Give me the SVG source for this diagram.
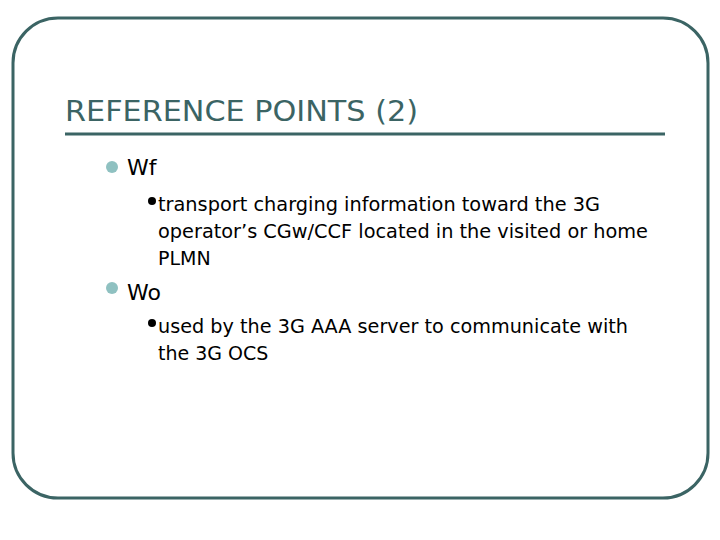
<svg xmlns="http://www.w3.org/2000/svg" width="720" height="540" viewBox="0 0 720 540">
<style>
.t{font-family:"DejaVu Sans","Liberation Sans",sans-serif}
.l1{font-size:22px;fill:#000}
.l2{font-size:19px;fill:#000}
</style>
<rect width="720" height="540" fill="#fff"/>
<g id="frame"><rect x="13" y="18" width="695" height="480" rx="45" fill="none" stroke="#3b6464" stroke-width="3"/></g>
<g id="title">
<text class="t" x="65" y="121" font-size="28" fill="#3b6464" textLength="353" lengthAdjust="spacingAndGlyphs">REFERENCE POINTS (2)</text>
<line x1="65" y1="134" x2="665" y2="134" stroke="#3b6464" stroke-width="3"/>
</g>
<g id="body">
<circle cx="112" cy="167" r="6" fill="#8fc1c1"/>
<text class="t l1" x="127" y="175">Wf</text>
<circle cx="152" cy="201" r="4" fill="#000"/>
<text class="t l2" x="158" y="211" textLength="442" lengthAdjust="spacingAndGlyphs">transport charging information toward the 3G</text>
<text class="t l2" x="158" y="238" textLength="490" lengthAdjust="spacingAndGlyphs">operator’s CGw/CCF located in the visited or home</text>
<text class="t l2" x="158" y="265">PLMN</text>
<circle cx="112" cy="288" r="6" fill="#8fc1c1"/>
<text class="t l1" x="127" y="300">Wo</text>
<circle cx="152" cy="323" r="4" fill="#000"/>
<text class="t l2" x="158" y="333" textLength="470" lengthAdjust="spacingAndGlyphs">used by the 3G AAA server to communicate with</text>
<text class="t l2" x="158" y="360">the 3G OCS</text>
</g>
</svg>
